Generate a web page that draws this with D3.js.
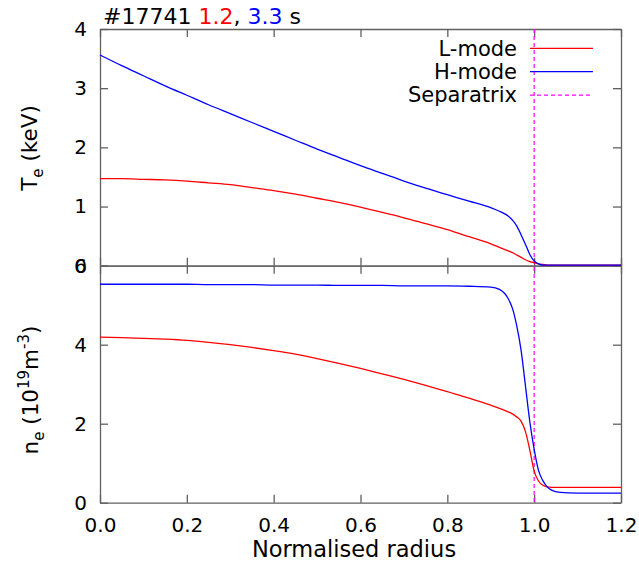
<!DOCTYPE html>
<html>
<head>
<meta charset="utf-8">
<script src="https://cdn.jsdelivr.net/npm/d3@7"></script>
<style>
  body { margin: 0; background: #fff; }
  text { font-family: "DejaVu Sans", sans-serif; }
</style>
</head>
<body>
<div class="chart"></div>
<script>
// radius grid (normalised), finer near the edge
const radius = [0, 0.05, 0.1, 0.15, 0.2, 0.25, 0.3, 0.35, 0.4, 0.45, 0.5, 0.55, 0.6, 0.65, 0.7, 0.75, 0.8, 0.85, 0.9,
                0.92, 0.94, 0.95, 0.96, 0.97, 0.98, 0.99, 1.0, 1.01, 1.02, 1.03, 1.04, 1.06, 1.1, 1.2];

// Te (keV)
const teL = [1.47, 1.47, 1.46, 1.45, 1.43, 1.40, 1.37, 1.32, 1.27, 1.21, 1.14, 1.07, 0.99, 0.90, 0.81, 0.71, 0.61, 0.49, 0.37,
             0.31, 0.25, 0.22, 0.18, 0.14, 0.10, 0.07, 0.05, 0.03, 0.02, 0.01, 0.01, 0.01, 0.01, 0.01];
const teH = [3.56, 3.38, 3.21, 3.04, 2.88, 2.72, 2.57, 2.42, 2.27, 2.12, 1.97, 1.83, 1.69, 1.56, 1.43, 1.31, 1.20, 1.09, 0.98,
             0.92, 0.84, 0.77, 0.67, 0.52, 0.36, 0.19, 0.08, 0.03, 0.01, 0.01, 0.01, 0.01, 0.01, 0.01];

// ne (1e19 m^-3)
const neL = [4.19, 4.18, 4.16, 4.14, 4.11, 4.06, 4.00, 3.93, 3.85, 3.76, 3.65, 3.53, 3.40, 3.26, 3.12, 2.97, 2.81, 2.65, 2.47,
             2.39, 2.30, 2.25, 2.17, 2.06, 1.80, 1.33, 0.80, 0.55, 0.44, 0.40, 0.39, 0.39, 0.39, 0.39];
const neH = [5.53, 5.53, 5.53, 5.53, 5.53, 5.52, 5.52, 5.52, 5.51, 5.51, 5.51, 5.50, 5.50, 5.50, 5.49, 5.49, 5.49, 5.48, 5.46,
             5.40, 5.17, 4.92, 4.47, 3.85, 2.95, 2.05, 1.35, 0.82, 0.56, 0.40, 0.32, 0.26, 0.24, 0.24];

const xTicks = [0, 0.2, 0.4, 0.6, 0.8, 1.0, 1.2];
const teTicks = [0, 1, 2, 3, 4];
const neTicks = [0, 2, 4, 6];
const separatrix = 1.0;

const w = 639;
const h = 562;
const plotLeft = 100, plotRight = 621, plotTop = 29, plotMid = 265.7, plotBottom = 502.7;
const frameColor = "#606060";

const svg = d3.select('.chart')
              .append('svg')
              .attr('width', w)
              .attr('height', h);

const x = d3.scaleLinear().domain([0, 1.2]).range([plotLeft, plotRight]);
const yTe = d3.scaleLinear().domain([0, 4]).range([plotMid, plotTop]);
const yNe = d3.scaleLinear().domain([0, 6]).range([plotBottom, plotMid]);

function styleAxis(g) {
    g.attr("font-family", null).attr("font-size", null);
    g.selectAll("path.domain").attr("stroke", frameColor).attr("stroke-width", 1.3);
    g.selectAll(".tick line").attr("stroke", frameColor).attr("stroke-width", 1.3);
    g.selectAll(".tick text").attr("fill", "#000").attr("font-size", 20);
}

// draw frame + ticks for one panel
function panel(y, yT, showX) {
    const y0 = y.range()[0], y1 = y.range()[1];
    svg.append("g").attr("transform", `translate(${plotLeft},0)`)
        .call(d3.axisLeft(y).tickValues(yT).tickFormat(d3.format("d")).tickSize(-8).tickSizeOuter(0).tickPadding(13))
        .call(styleAxis);
    svg.append("g").attr("transform", `translate(${plotRight},0)`)
        .call(d3.axisRight(y).tickValues(yT).tickFormat("").tickSize(-8).tickSizeOuter(0))
        .call(styleAxis);
    svg.append("g").attr("transform", `translate(0,${y1})`)
        .call(d3.axisTop(x).tickValues(xTicks).tickFormat("").tickSize(-8).tickSizeOuter(0))
        .call(styleAxis);
    svg.append("g").attr("transform", `translate(0,${y0})`)
        .call(d3.axisBottom(x).tickValues(xTicks).tickFormat(showX ? d3.format(".1f") : "").tickSize(-8).tickSizeOuter(0).tickPadding(15))
        .call(styleAxis);
}

panel(yTe, teTicks, false);
panel(yNe, neTicks, true);

// separatrix
svg.append("line")
    .attr("x1", x(separatrix)).attr("x2", x(separatrix))
    .attr("y1", plotTop).attr("y2", plotBottom)
    .attr("stroke", "#ff00ff")
    .attr("stroke-width", 1.2)
    .attr("stroke-dasharray", "4,3");

// profiles
const series = [
    { vals: teL, y: yTe, color: "#ff0000" },
    { vals: teH, y: yTe, color: "#0000ff" },
    { vals: neL, y: yNe, color: "#ff0000" },
    { vals: neH, y: yNe, color: "#0000ff" }
];

series.forEach(s => {
    const line = d3.line()
        .x((d, i) => x(radius[i]))
        .y(d => s.y(d))
        .curve(d3.curveMonotoneX);
    svg.append("path")
        .datum(s.vals)
        .attr("d", line)
        .attr("fill", "none")
        .attr("stroke", s.color)
        .attr("stroke-width", 1.3);
});

// legend
const legend = [
    { name: "L-mode", color: "#ff0000", dash: null },
    { name: "H-mode", color: "#0000ff", dash: null },
    { name: "Separatrix", color: "#ff00ff", dash: "4,3" }
];
legend.forEach((d, i) => {
    const ly = 48.3 + i * 23.4;
    svg.append("text")
        .attr("x", 517).attr("y", ly)
        .attr("dy", "0.35em")
        .attr("text-anchor", "end")
        .attr("font-size", 21)
        .text(d.name);
    svg.append("line")
        .attr("x1", 530).attr("x2", 593)
        .attr("y1", ly).attr("y2", ly)
        .attr("stroke", d.color)
        .attr("stroke-width", d.dash ? 1.2 : 1.3)
        .attr("stroke-dasharray", d.dash);
});

// title
const title = svg.append("text").attr("x", 103).attr("y", 24).attr("font-size", 22);
title.append("tspan").text("#17741 ");
title.append("tspan").attr("fill", "#ff0000").text("1.2");
title.append("tspan").text(", ");
title.append("tspan").attr("fill", "#0000ff").text("3.3");
title.append("tspan").text(" s");

// axis titles
svg.append("text")
    .attr("x", 354).attr("y", 557)
    .attr("text-anchor", "middle")
    .attr("font-size", 22.5)
    .text("Normalised radius");

const teLab = svg.append("text")
    .attr("transform", "translate(37,148) rotate(-90)")
    .attr("text-anchor", "middle")
    .attr("font-size", 21.5);
teLab.append("tspan").text("T");
teLab.append("tspan").attr("dy", 6).attr("font-size", 15).text("e");
teLab.append("tspan").attr("dy", -6).text(" (keV)");

const neLab = svg.append("text")
    .attr("transform", "translate(38,390) rotate(-90)")
    .attr("text-anchor", "middle")
    .attr("font-size", 21.5);
neLab.append("tspan").text("n");
neLab.append("tspan").attr("dy", 6).attr("font-size", 15).text("e");
neLab.append("tspan").attr("dy", -6).text(" (10");
neLab.append("tspan").attr("dy", -9).attr("font-size", 15).text("19");
neLab.append("tspan").attr("dy", 9).text("m");
neLab.append("tspan").attr("dy", -9).attr("font-size", 15).text("-3");
neLab.append("tspan").attr("dy", 9).text(")");
</script>
</body>
</html>
